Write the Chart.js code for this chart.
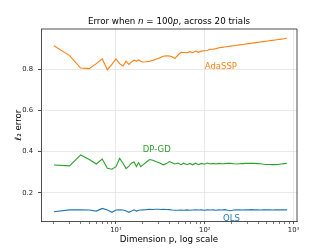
<!DOCTYPE html>
<html>
<head>
<meta charset="utf-8">
<script src="https://cdn.jsdelivr.net/npm/chart.js@4.4.1/dist/chart.umd.min.js"></script>
<style>
  html, body { margin: 0; padding: 0; background: #fff; }
  canvas { display: block; }
</style>
</head>
<body>
<canvas id="chart" width="332" height="249"></canvas>
<script>
// dimension p (x values, log scale)
const dims = [2, 3, 4, 5, 6, 7, 8, 9, 10, 11, 12, 13, 14, 15, 16, 17, 18, 19, 20, 22, 24, 26, 28, 30,
  32, 34, 37, 40, 43, 46, 50, 54, 58, 63, 68, 73, 79, 85, 92, 99, 107, 115, 124, 134, 145, 156,
  168, 182, 196, 212, 229, 247, 267, 288, 311, 336, 363, 392, 423, 457, 494, 533, 576, 622,
  672, 726, 784, 847];

// l2 error per method
const adaSSP = [0.913, 0.865, 0.805, 0.802, 0.826, 0.849, 0.797, 0.823, 0.849, 0.826, 0.815, 0.838,
  0.822, 0.835, 0.843, 0.838, 0.844, 0.838, 0.834, 0.835, 0.838, 0.842, 0.847, 0.851, 0.857,
  0.862, 0.864, 0.863, 0.859, 0.851, 0.868, 0.881, 0.880, 0.879, 0.884, 0.879, 0.887, 0.881,
  0.887, 0.889, 0.890, 0.896, 0.896, 0.899, 0.903, 0.905, 0.907, 0.909, 0.911, 0.913, 0.915,
  0.917, 0.919, 0.921, 0.923, 0.925, 0.927, 0.929, 0.931, 0.933, 0.935, 0.937, 0.939, 0.941,
  0.943, 0.945, 0.947, 0.950];

const dpGD = [0.335, 0.331, 0.384, 0.362, 0.340, 0.364, 0.319, 0.315, 0.327, 0.367, 0.344, 0.318,
  0.330, 0.345, 0.350, 0.328, 0.347, 0.327, 0.335, 0.350, 0.362, 0.358, 0.352, 0.347, 0.342,
  0.336, 0.342, 0.352, 0.346, 0.340, 0.345, 0.337, 0.344, 0.337, 0.343, 0.336, 0.344, 0.337,
  0.343, 0.339, 0.345, 0.340, 0.343, 0.340, 0.343, 0.341, 0.342, 0.344, 0.343, 0.341, 0.340,
  0.341, 0.342, 0.343, 0.343, 0.344, 0.343, 0.342, 0.341, 0.339, 0.338, 0.338, 0.337, 0.337,
  0.338, 0.340, 0.342, 0.344];

const ols = [0.109, 0.118, 0.118, 0.117, 0.112, 0.125, 0.117, 0.106, 0.117, 0.118, 0.117, 0.112,
  0.106, 0.112, 0.118, 0.112, 0.116, 0.117, 0.118, 0.119, 0.121, 0.120, 0.121, 0.121, 0.120,
  0.121, 0.120, 0.119, 0.117, 0.116, 0.116, 0.117, 0.116, 0.118, 0.116, 0.117, 0.118, 0.117,
  0.118, 0.116, 0.118, 0.117, 0.118, 0.116, 0.118, 0.117, 0.119, 0.116, 0.114, 0.117, 0.118,
  0.118, 0.117, 0.118, 0.118, 0.119, 0.118, 0.118, 0.117, 0.118, 0.118, 0.118, 0.117, 0.118,
  0.118, 0.118, 0.118, 0.118];

// axis ticks
const xMajorTicks = [10, 100, 1000];
const xTickLabels = ['10\u00b9', '10\u00b2', '10\u00b3'];
const yTicks = [0.2, 0.4, 0.6, 0.8];

// in-plot method labels (data coords, left/baseline)
const labelText = ['AdaSSP', 'DP-GD', 'OLS'];
const labelX = [100, 20, 161];
const labelY = [0.8, 0.4, 0.066];

const colors = ['#ff7f0e', '#2ca02c', '#1f77b4'];
const FONT = "'DejaVu Sans', sans-serif";

const toPoints = (vals) => vals.map((v, i) => ({ x: dims[i], y: v }));

// minor ticks 2..9 of every decade inside the axis range
const buildXTicks = () => {
  const ticks = [];
  for (let d = 1; d <= 1000; d *= 10) {
    for (let m = 1; m <= 9; m++) {
      const v = m * d;
      if (v >= 1.43 && v <= 1095) ticks.push({ value: v, major: m === 1 });
    }
  }
  return ticks;
};

// top/right frame, title with italics, method labels
const decorPlugin = {
  id: 'decor',
  afterDraw: (chart) => {
    const ctx = chart.ctx;
    const a = chart.chartArea;
    ctx.save();
    ctx.strokeStyle = '#222';
    ctx.lineWidth = 0.8;
    ctx.beginPath();
    ctx.moveTo(a.left, a.top);
    ctx.lineTo(a.right, a.top);
    ctx.lineTo(a.right, a.bottom);
    ctx.stroke();

    // title
    const parts = [
      ['Error when ', false], ['n', true], [' = 100', false], ['p', true], [', across 20 trials', false]
    ];
    const size = 8.7;
    let total = 0;
    parts.forEach(([t, it]) => {
      ctx.font = (it ? 'italic ' : '') + size + 'px ' + FONT;
      total += ctx.measureText(t).width;
    });
    let x = (a.left + a.right) / 2 - total / 2;
    ctx.fillStyle = '#000';
    ctx.textBaseline = 'middle';
    ctx.textAlign = 'left';
    parts.forEach(([t, it]) => {
      ctx.font = (it ? 'italic ' : '') + size + 'px ' + FONT;
      ctx.fillText(t, x, 22);
      x += ctx.measureText(t).width;
    });

    // method labels
    const xs = chart.scales.x;
    const ys = chart.scales.y;
    ctx.font = '8.5px ' + FONT;
    ctx.textBaseline = 'alphabetic';
    labelText.forEach((t, i) => {
      ctx.fillStyle = colors[i];
      ctx.fillText(t, xs.getPixelForValue(labelX[i]), ys.getPixelForValue(labelY[i]));
    });
    ctx.restore();
  }
};

const lineDataset = (label, vals, color) => ({
  label,
  data: toPoints(vals),
  borderColor: color,
  backgroundColor: 'transparent',
  borderWidth: 1.1,
  pointRadius: 0,
  tension: 0
});

new Chart(document.getElementById('chart'), {
  type: 'line',
  data: {
    datasets: [
      lineDataset('OLS', ols, colors[2]),
      lineDataset('AdaSSP', adaSSP, colors[0]),
      lineDataset('DP-GD', dpGD, colors[1])
    ]
  },
  options: {
    responsive: false,
    animation: false,
    devicePixelRatio: 1,
    layout: { padding: { left: 0, right: 35, top: 29, bottom: 0 } },
    plugins: {
      legend: { display: false },
      tooltip: { enabled: false }
    },
    scales: {
      x: {
        type: 'logarithmic',
        min: 1.43,
        max: 1095,
        afterBuildTicks: (scale) => { scale.ticks = buildXTicks(); },
        afterFit: (scale) => { scale.height = 28; },
        ticks: {
          autoSkip: false,
          maxRotation: 0,
          padding: 2,
          color: '#222',
          font: { family: FONT, size: 6.8 },
          callback: (value) => {
            const i = xMajorTicks.indexOf(value);
            return i >= 0 ? xTickLabels[i] : '';
          }
        },
        grid: {
          color: (c) => (c.tick && c.tick.major ? '#e3e3e3' : 'rgba(0,0,0,0)'),
          tickColor: '#222',
          tickLength: 3,
          tickWidth: (c) => (c.tick && c.tick.major ? 0.8 : 0.6),
          lineWidth: 0.8
        },
        border: { color: '#222', width: 0.8 },
        title: {
          display: true,
          text: 'Dimension p, log scale',
          color: '#000',
          font: { family: FONT, size: 8.7 },
          padding: { top: 0, bottom: 4 }
        }
      },
      y: {
        type: 'linear',
        min: 0.064,
        max: 0.994,
        afterBuildTicks: (scale) => { scale.ticks = yTicks.map((v) => ({ value: v })); },
        afterFit: (scale) => { scale.width = 41; },
        ticks: {
          padding: 5,
          color: '#222',
          font: { family: FONT, size: 6.8 },
          callback: (value) => value.toFixed(1)
        },
        grid: {
          color: '#e3e3e3',
          tickColor: '#222',
          tickLength: 3,
          lineWidth: 0.8
        },
        border: { color: '#222', width: 0.8 },
        title: {
          display: true,
          text: '\u2113\u2082 error',
          color: '#000',
          font: { family: FONT, size: 8.7 },
          padding: { top: 14, bottom: 0 }
        }
      }
    }
  },
  plugins: [decorPlugin]
});
</script>
</body>
</html>
